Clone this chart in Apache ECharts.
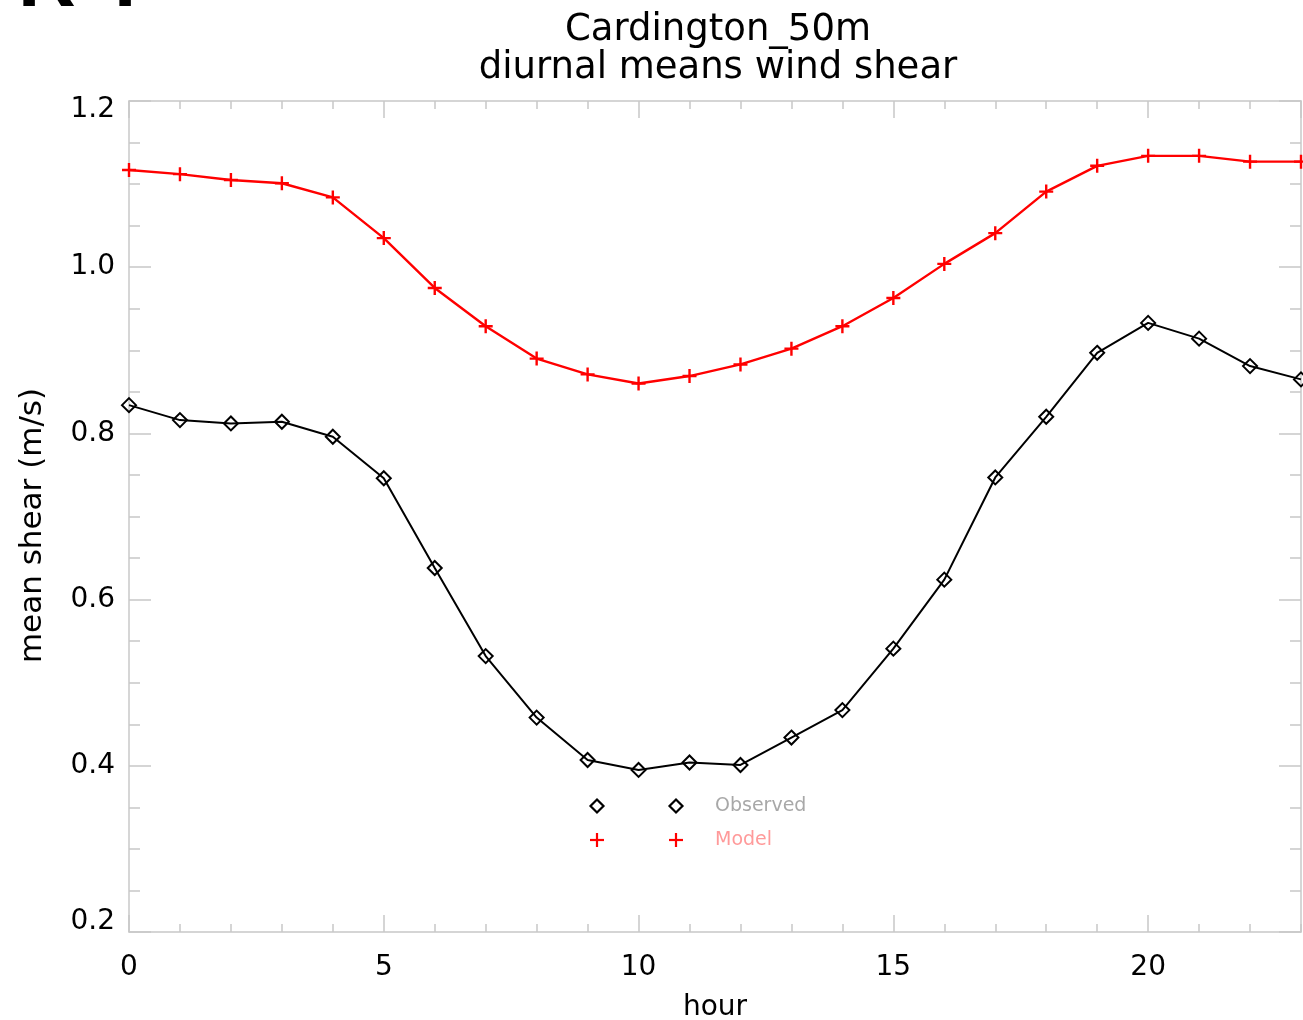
<!DOCTYPE html>
<html>
<head>
<meta charset="utf-8">
<script src="https://cdn.jsdelivr.net/npm/echarts@6/dist/echarts.min.js"></script>
<style>
html,body{margin:0;padding:0;background:#fff;}
#chart{width:1303px;height:1020px;}
</style>
</head>
<body>
<div id="chart"></div>
<script>
// ---- data ----
const hours = [0,1,2,3,4,5,6,7,8,9,10,11,12,13,14,15,16,17,18,19,20,21,22,23];
const observed = [0.834,0.816,0.812,0.814,0.796,0.746,0.638,0.532,0.458,0.407,0.395,0.404,0.401,0.434,0.467,0.541,0.624,0.747,0.820,0.897,0.933,0.914,0.881,0.865];
const model = [1.117,1.112,1.105,1.101,1.084,1.035,0.975,0.929,0.890,0.871,0.860,0.869,0.883,0.902,0.929,0.963,1.004,1.041,1.091,1.122,1.134,1.134,1.127,1.127];
const titleLines = ['Cardington_50m', 'diurnal means wind shear'];
const legendNames = ['Observed', 'Model'];
const xName = 'hour';
const yName = 'mean shear (m/s)';

const FONT = 'DejaVu Sans';
const AX = '#c8c8c8';

const chart = echarts.init(document.getElementById('chart'), null, {renderer: 'canvas'});

function xAx(pos, interval, tickLen, showLabel, showLine, name) {
  return {
    type: 'value', position: pos, min: 0, max: 23, interval: interval,
    name: name || '', nameLocation: 'middle', nameGap: 62,
    nameTextStyle: {fontFamily: FONT, fontSize: 28, color: '#000'},
    axisLine: {show: showLine, onZero: false, lineStyle: {color: AX, width: 1.5}},
    axisTick: {show: true, inside: true, length: tickLen, lineStyle: {color: AX, width: 1.5}},
    axisLabel: {show: showLabel, showMaxLabel: false, margin: 22, fontFamily: FONT, fontSize: 28, color: '#000'},
    splitLine: {show: false}
  };
}
function yAx(pos, showLabel, name) {
  return {
    type: 'value', position: pos, min: 0.2, max: 1.2, interval: 0.2,
    name: name || '', nameLocation: 'middle', nameGap: 81,
    nameTextStyle: {fontFamily: FONT, fontSize: 31, color: '#000', padding: [0, 18, 0, 0]},
    axisLine: {show: true, onZero: false, lineStyle: {color: AX, width: 1.5}},
    axisTick: {show: true, inside: true, length: 22, lineStyle: {color: AX, width: 1.5}},
    minorTick: {show: true, splitNumber: 4, length: 11, lineStyle: {color: AX, width: 1.5}},
    axisLabel: {
      show: showLabel, margin: 14, fontFamily: FONT, fontSize: 28, color: '#000',
      formatter: function (v) {
        const s = v.toFixed(1);
        if (Math.abs(v - 1.2) < 1e-6) return '{top|' + s + '}';
        if (Math.abs(v - 0.2) < 1e-6) return '{bot|' + s + '}';
        return s;
      },
      rich: {
        top: {fontFamily: FONT, fontSize: 28, color: '#000', padding: [18, 0, 0, 0]},
        bot: {fontFamily: FONT, fontSize: 28, color: '#000', padding: [0, 0, 20, 0]}
      }
    },
    splitLine: {show: false}
  };
}

function diamond(cx, cy, r) {
  return {type: 'polygon', shape: {points: [[cx, cy - r], [cx + r, cy], [cx, cy + r], [cx - r, cy]]},
    style: {fill: 'none', stroke: '#000', lineWidth: 2.2}};
}
function plus(cx, cy, r) {
  return {type: 'group', children: [
    {type: 'line', shape: {x1: cx - r, y1: cy, x2: cx + r, y2: cy}, style: {stroke: '#ff0000', lineWidth: 2.2}},
    {type: 'line', shape: {x1: cx, y1: cy - r, x2: cx, y2: cy + r}, style: {stroke: '#ff0000', lineWidth: 2.2}}
  ]};
}

const option = {
  backgroundColor: '#fff',
  animation: false,
  title: {
    text: titleLines.join('\n'), left: 713, top: 6, textAlign: 'center',
    textStyle: {fontFamily: FONT, fontSize: 37, fontWeight: 'normal', color: '#000', lineHeight: 38}
  },
  grid: {left: 129, right: 2, top: 101, bottom: 88, containLabel: false, outerBoundsMode: 'none'},
  xAxis: [
    xAx('bottom', 5, 17, true, true, xName),
    xAx('bottom', 1, 8, false, false),
    xAx('top', 5, 17, false, true),
    xAx('top', 1, 8, false, false)
  ],
  yAxis: [
    yAx('left', true, yName),
    yAx('right', false)
  ],
  series: [
    {
      name: legendNames[0], type: 'line', xAxisIndex: 0, yAxisIndex: 0,
      data: hours.map((h, i) => [h, observed[i]]),
      symbol: 'diamond', symbolSize: 14,
      itemStyle: {color: 'rgba(0,0,0,0)', borderColor: '#000', borderWidth: 2},
      lineStyle: {color: '#000', width: 2},
      z: 3
    },
    {
      name: legendNames[1], type: 'line', xAxisIndex: 0, yAxisIndex: 0,
      data: hours.map((h, i) => [h, model[i]]),
      symbol: 'path://M5,0L5,10M0,5L10,5', symbolSize: 14,
      itemStyle: {color: 'rgba(0,0,0,0)', borderColor: '#ff0000', borderWidth: 2.4},
      lineStyle: {color: '#ff0000', width: 2.4},
      z: 3
    }
  ],
  graphic: [
    {type: 'text', left: 18, top: -56, style: {text: 'R', font: 'bold 80px "Liberation Sans"', fill: '#000'}},
    {type: 'text', left: 114, top: -56, style: {text: 'I', font: 'bold 80px "Liberation Sans"', fill: '#000'}},
    diamond(597, 806, 6.5), diamond(676, 806, 6.5),
    {type: 'text', x: 715, y: 806, style: {text: legendNames[0], fill: '#a8a8a8', font: '19px "DejaVu Sans"', verticalAlign: 'middle'}},
    plus(597, 840, 7), plus(676, 840, 7),
    {type: 'text', x: 715, y: 840, style: {text: legendNames[1], fill: '#ff9a9a', font: '19px "DejaVu Sans"', verticalAlign: 'middle'}}
  ]
};
chart.setOption(option);
</script>
</body>
</html>
